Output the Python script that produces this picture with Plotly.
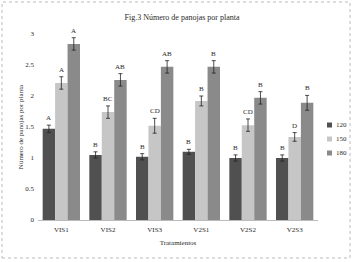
import plotly.graph_objects as go

categories = ["VIS1", "VIS2", "VIS3", "V2S1", "V2S2", "V2S3"]
series_names = ["120", "150", "180"]
vals_120 = [1.47, 1.05, 1.02, 1.10, 1.00, 1.00]
vals_150 = [2.21, 1.74, 1.52, 1.92, 1.53, 1.34]
vals_180 = [2.84, 2.26, 2.47, 2.47, 1.97, 1.89]
err_120 = [0.06, 0.05, 0.05, 0.04, 0.05, 0.05]
err_150 = [0.10, 0.10, 0.12, 0.08, 0.10, 0.07]
err_180 = [0.10, 0.10, 0.10, 0.10, 0.10, 0.12]
letters_120 = ["A", "B", "B", "B", "B", "B"]
letters_150 = ["A", "BC", "CD", "B", "CD", "D"]
letters_180 = ["A", "AB", "AB", "B", "B", "B"]
y_ticks = [0, 0.5, 1, 1.5, 2, 2.5, 3]

colors = ["#505050", "#c6c6c6", "#8a8a8a"]
values = [vals_120, vals_150, vals_180]
errors = [err_120, err_150, err_180]
letters = [letters_120, letters_150, letters_180]

FONT = "Liberation Serif"
TXT = "#2a2a2a"
fig = go.Figure()
for name, v, e, c in zip(series_names, values, errors, colors):
    fig.add_trace(go.Bar(
        x=categories, y=v, name=name, marker=dict(color=c, line=dict(width=0)),
        error_y=dict(type="data", array=e, color="#222222", thickness=0.8, width=2),
        showlegend=False,
    ))

W, H = 353, 262
L, R, T, B = 38, 35, 34, 42
plot_w = W - L - R
plot_h = H - T - B
cat_w = plot_w / len(categories)
bargap = 0.2
bar_w = cat_w * (1 - bargap) / 3
for si, (v, e, lab) in enumerate(zip(values, errors, letters)):
    shift = (si - 1) * bar_w
    for ci, cat in enumerate(categories):
        fig.add_annotation(
            x=cat, y=v[ci] + e[ci], text=lab[ci], showarrow=False,
            xshift=shift, yanchor="bottom", yshift=1,
            font=dict(family=FONT, size=7, color=TXT),
        )

def px(xp):
    return (xp - L) / plot_w

def py(yp):
    return (H - B - yp) / plot_h

# manual legend
for i, (name, c) in enumerate(zip(series_names, colors)):
    yc = 125 + i * 14
    fig.add_shape(type="rect", xref="paper", yref="paper",
                  x0=px(327), x1=px(332), y0=py(yc + 2.5), y1=py(yc - 2.5),
                  fillcolor=c, line=dict(width=0))
    fig.add_annotation(xref="paper", yref="paper", x=px(334), y=py(yc),
                       text=name, showarrow=False,
                       xanchor="left", yanchor="middle",
                       font=dict(family=FONT, size=7, color=TXT))

fig.add_shape(type="rect", xref="paper", yref="paper",
              x0=px(2), x1=px(W - 3), y0=py(H - 4), y1=py(2),
              line=dict(color="#bbbbbb", width=1, dash="dot"))

fig.update_layout(
    width=W, height=H,
    margin=dict(l=L, r=R, t=T, b=B, autoexpand=False),
    paper_bgcolor="white", plot_bgcolor="white",
    barmode="group", bargap=bargap, bargroupgap=0,
    title=dict(text="Fig.3 Número de panojas por planta", x=182 / W, xanchor="center",
               y=1 - 17 / H, yanchor="middle",
               font=dict(family=FONT, size=8, color=TXT)),
    font=dict(family=FONT, size=7, color=TXT),
    showlegend=False,
    xaxis=dict(title=dict(text="Tratamientos", standoff=6,
                          font=dict(family=FONT, size=7, color=TXT)),
               showline=True, linecolor="#bbbbbb", linewidth=1,
               ticks="", ticklabelstandoff=3,
               tickfont=dict(family=FONT, size=7, color=TXT)),
    yaxis=dict(range=[0, 3], tickvals=y_ticks, ticktext=[str(t) for t in y_ticks],
               showgrid=False, zeroline=False, showline=False, ticks="",
               ticklabelstandoff=3,
               title=dict(text="Número de panojas por planta", standoff=0,
                          font=dict(family=FONT, size=7, color=TXT)),
               tickfont=dict(family=FONT, size=7, color=TXT)),
)

fig.write_html("out.html", config={"displayModeBar": False},
               post_script="document.body.style.margin='0';document.body.style.overflow='hidden';")
